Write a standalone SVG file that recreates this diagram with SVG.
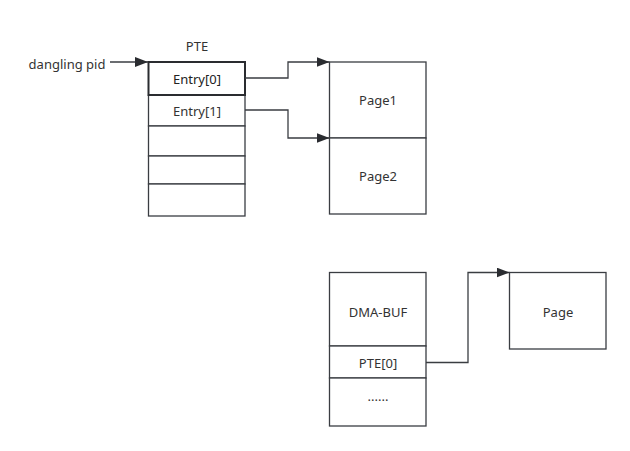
<svg xmlns="http://www.w3.org/2000/svg" width="630" height="451" viewBox="0 0 630 451">
<defs>
<style>
.b{fill:#fff;stroke:#3a3d42;stroke-width:1.3}
.bb{fill:#fff;stroke:#2a2c30;stroke-width:2}
.t{font-family:"Noto Sans","Open Sans","DejaVu Sans",sans-serif;font-size:13px;fill:#333;text-anchor:middle;dominant-baseline:central}
.c{fill:none;stroke:#3a3d42;stroke-width:1.3}
</style>
<marker id="ah" viewBox="0 0 13 10" refX="13" refY="5" markerWidth="13" markerHeight="10" markerUnits="userSpaceOnUse" orient="auto"><path d="M0,0 L13,5 L0,10 Z" fill="#2a2c30"/></marker>
</defs>
<rect width="630" height="451" fill="#fff"/>
<g id="pte">
<text class="t" x="197" y="46">PTE</text>
<rect class="b" x="148.5" y="95" width="96.5" height="31"/>
<rect class="b" x="148.5" y="126" width="96.5" height="30"/>
<rect class="b" x="148.5" y="156" width="96.5" height="28"/>
<rect class="b" x="148.5" y="184" width="96.5" height="32"/>
<text class="t" x="197" y="111">Entry[1]</text>
<rect class="bb" x="148.5" y="62" width="96.5" height="33"/>
<text class="t" x="197" y="79" style="fill:#222">Entry[0]</text>
</g>
<g id="dangling">
<text class="t" x="67" y="64">dangling pid</text>
</g>
<g id="pages">
<rect class="b" x="329.5" y="62" width="96.5" height="76"/>
<rect class="b" x="329.5" y="138" width="96.5" height="76"/>
<text class="t" x="378" y="100">Page1</text>
<text class="t" x="378" y="176">Page2</text>
</g>
<g id="dmabuf">
<rect class="b" x="329.5" y="272.5" width="96.5" height="73.5"/>
<rect class="b" x="329.5" y="346" width="96.5" height="32"/>
<rect class="b" x="329.5" y="378" width="96.5" height="48"/>
<text class="t" x="378" y="312">DMA-BUF</text>
<text class="t" x="378" y="363">PTE[0]</text>
<text class="t" x="378" y="396">......</text>
</g>
<g id="page">
<rect class="b" x="509.5" y="272.5" width="96.5" height="76.5"/>
<text class="t" x="558" y="312">Page</text>
</g>
<g id="connectors">
<path class="c" d="M110,62 H148" marker-end="url(#ah)"/>
<path class="c" d="M245,78 H288 V62 H329.5" marker-end="url(#ah)"/>
<path class="c" d="M245,110 H288 V138 H329.5" marker-end="url(#ah)"/>
<path class="c" d="M426,362.5 H468 V272.5 H509.5" marker-end="url(#ah)"/>
</g>
</svg>
